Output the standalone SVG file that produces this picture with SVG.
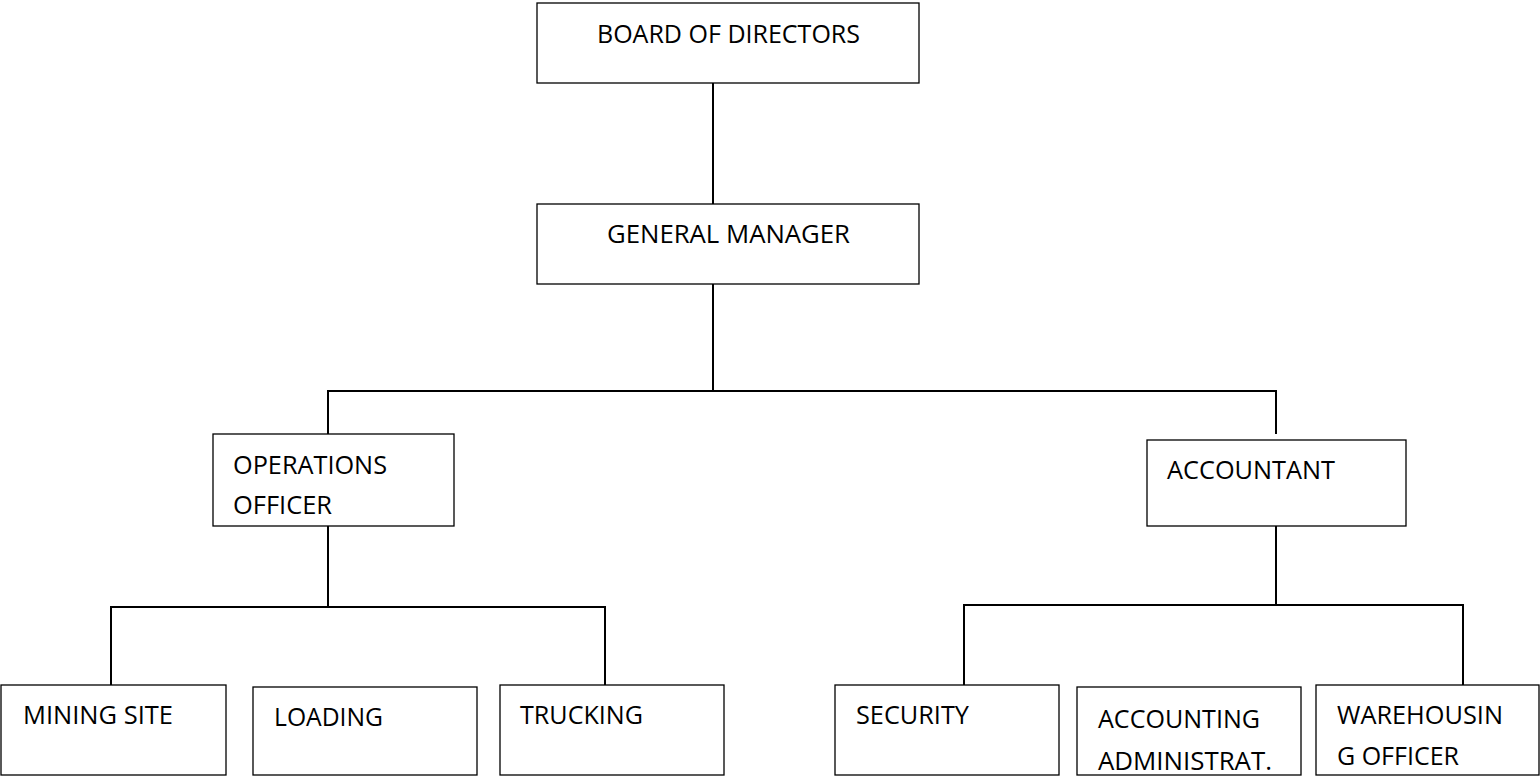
<svg xmlns="http://www.w3.org/2000/svg" width="1540" height="776" viewBox="0 0 1540 776">
<style>
rect.box{fill:#fff;stroke:#000;stroke-width:1.3}
.conn line{stroke:#000;stroke-width:2}
text{font-family:"Open Sans","Liberation Sans",sans-serif;font-size:26px;fill:#000}
</style>
<rect width="1540" height="776" fill="#fff"/>
<g class="conn" id="connectors">
<line x1="713" y1="83" x2="713" y2="204"/>
<line x1="713" y1="284" x2="713" y2="391"/>
<line x1="327" y1="391" x2="1277" y2="391"/>
<line x1="328" y1="390" x2="328" y2="434"/>
<line x1="1276" y1="390" x2="1276" y2="434"/>
<line x1="328" y1="526" x2="328" y2="607"/>
<line x1="110" y1="607" x2="606" y2="607"/>
<line x1="111" y1="606" x2="111" y2="687"/>
<line x1="605" y1="606" x2="605" y2="687"/>
<line x1="1276" y1="526" x2="1276" y2="605"/>
<line x1="963" y1="605" x2="1464" y2="605"/>
<line x1="964" y1="604" x2="964" y2="685"/>
<line x1="1463" y1="604" x2="1463" y2="685"/>
</g>
<g id="board"><rect class="box" x="537" y="3" width="382" height="80"/><text x="597" y="43" textLength="263" lengthAdjust="spacingAndGlyphs">BOARD OF DIRECTORS</text></g>
<g id="gm"><rect class="box" x="537" y="204" width="382" height="80"/><text x="607" y="243" textLength="243" lengthAdjust="spacingAndGlyphs">GENERAL MANAGER</text></g>
<g id="ops"><rect class="box" x="213" y="434" width="241" height="92"/><text x="233" y="474" textLength="154" lengthAdjust="spacingAndGlyphs">OPERATIONS</text><text x="233" y="514" textLength="99" lengthAdjust="spacingAndGlyphs">OFFICER</text></g>
<g id="accountant"><rect class="box" x="1147" y="440" width="259" height="86"/><text x="1167" y="479" textLength="168" lengthAdjust="spacingAndGlyphs">ACCOUNTANT</text></g>
<g id="mining"><rect class="box" x="1" y="685" width="225" height="90"/><text x="23" y="724" textLength="150" lengthAdjust="spacingAndGlyphs">MINING SITE</text></g>
<g id="loading"><rect class="box" x="253" y="687" width="224" height="88"/><text x="274" y="726" textLength="109" lengthAdjust="spacingAndGlyphs">LOADING</text></g>
<g id="trucking"><rect class="box" x="500" y="685" width="224" height="90"/><text x="520" y="724" textLength="123" lengthAdjust="spacingAndGlyphs">TRUCKING</text></g>
<g id="security"><rect class="box" x="835" y="685" width="224" height="90"/><text x="856" y="724" textLength="113" lengthAdjust="spacingAndGlyphs">SECURITY</text></g>
<g id="accadmin"><rect class="box" x="1077" y="687" width="224" height="88"/><text x="1098" y="728" textLength="162" lengthAdjust="spacingAndGlyphs">ACCOUNTING</text><text x="1098" y="770" textLength="174" lengthAdjust="spacingAndGlyphs">ADMINISTRAT.</text></g>
<g id="warehousing"><rect class="box" x="1316" y="685" width="223" height="90"/><text x="1337" y="724" textLength="166" lengthAdjust="spacingAndGlyphs">WAREHOUSIN</text><text x="1337" y="765" textLength="122" lengthAdjust="spacingAndGlyphs">G OFFICER</text></g>
</svg>
